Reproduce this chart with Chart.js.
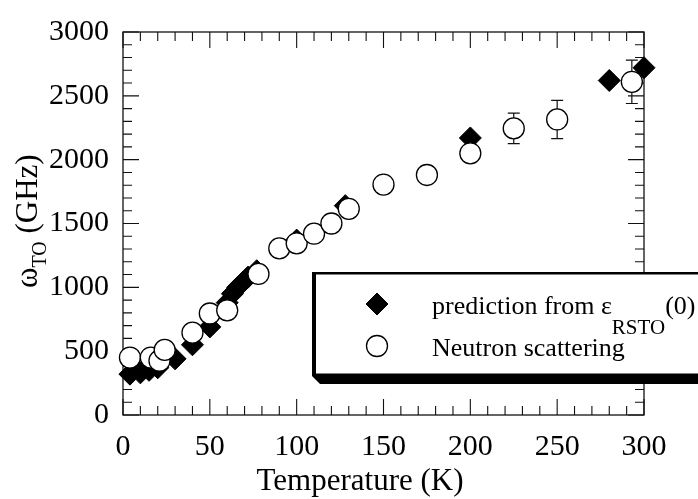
<!DOCTYPE html>
<html>
<head>
<meta charset="utf-8">
<script src="https://cdn.jsdelivr.net/npm/chart.js@4/dist/chart.umd.min.js"></script>
<style>
  html, body { margin: 0; padding: 0; background: #fff; }
  #wrap { width: 698px; height: 499px; position: relative; }
</style>
</head>
<body>
<div id="wrap"><canvas id="chart"></canvas></div>
<script>
// prediction from eps_RSTO(0)
const predT = [4, 10, 15, 20, 30, 40, 50, 60, 63, 66, 69, 72, 77, 100, 128, 200, 280, 300];
const predW = [320, 330, 350, 370, 440, 550, 690, 880, 950, 1000, 1040, 1080, 1130, 1370, 1640, 2170, 2620, 2720];

// neutron scattering (error = 0 -> no bar)
const neutT = [4, 16, 21, 24, 40, 50, 60, 78, 90, 100, 110, 120, 130, 150, 175, 200, 225, 250, 293];
const neutW = [450, 450, 425, 510, 645, 795, 820, 1105, 1305, 1345, 1420, 1500, 1615, 1805, 1880, 2050, 2245, 2315, 2610];
const neutErr = [0, 0, 0, 0, 0, 0, 0, 0, 0, 0, 0, 0, 0, 0, 0, 0, 120, 150, 170];

const seriesNames = ['prediction from ε_{RSTO}(0)', 'Neutron scattering'];
const xTitle = 'Temperature (K)';
const yTitle = 'ω_{TO} (GHz)';

const FONT = "'Liberation Serif', 'Times New Roman', serif";

function toPoints(xs, ys) {
    return xs.map((x, i) => ({ x: x, y: ys[i] }));
}

// split "a_{b}c" into [[a,false],[b,true],[c,false]]
function parseRich(str) {
    const parts = [];
    const re = /_\{([^}]*)\}/g;
    let last = 0, m;
    while ((m = re.exec(str)) !== null) {
        if (m.index > last) parts.push([str.slice(last, m.index), false]);
        parts.push([m[1], true]);
        last = re.lastIndex;
    }
    if (last < str.length) parts.push([str.slice(last), false]);
    return parts;
}

function drawRich(ctx, str, x, y, size, subSize, shift) {
    let cx = x;
    for (const [txt, sub] of parseRich(str)) {
        ctx.font = (sub ? subSize : size) + 'px ' + FONT;
        ctx.fillText(txt, cx, sub ? y + shift : y);
        cx += ctx.measureText(txt).width;
    }
    return cx;
}

// frame + inward ticks on all four sides
const framePlugin = {
    id: 'frame',
    beforeDatasetsDraw(chart) {
        const ctx = chart.ctx;
        const a = chart.chartArea;
        const xs = chart.scales.x, ys = chart.scales.y;
        ctx.save();
        ctx.strokeStyle = '#111';
        ctx.lineWidth = 1.3;
        ctx.strokeRect(a.left, a.top, a.right - a.left, a.bottom - a.top);
        ctx.lineWidth = 1.1;
        ctx.beginPath();
        for (let v = xs.min; v <= xs.max; v += 10) {
            const p = xs.getPixelForValue(v);
            const len = (v % 50 === 0) ? 16 : 9;
            ctx.moveTo(p, a.bottom); ctx.lineTo(p, a.bottom - len);
            ctx.moveTo(p, a.top); ctx.lineTo(p, a.top + len);
        }
        for (let v = ys.min; v <= ys.max; v += 100) {
            const p = ys.getPixelForValue(v);
            const len = (v % 500 === 0) ? 16 : 9;
            ctx.moveTo(a.left, p); ctx.lineTo(a.left + len, p);
            ctx.moveTo(a.right, p); ctx.lineTo(a.right - len, p);
        }
        ctx.stroke();

        // error bars under the neutron circles
        ctx.lineWidth = 1.2;
        ctx.beginPath();
        neutT.forEach((t, i) => {
            const e = neutErr[i];
            if (!e) return;
            const px = xs.getPixelForValue(t);
            const p1 = ys.getPixelForValue(neutW[i] + e);
            const p2 = ys.getPixelForValue(neutW[i] - e);
            ctx.moveTo(px, p1); ctx.lineTo(px, p2);
            ctx.moveTo(px - 6, p1); ctx.lineTo(px + 6, p1);
            ctx.moveTo(px - 6, p2); ctx.lineTo(px + 6, p2);
        });
        ctx.stroke();
        ctx.restore();
    },
    afterDraw(chart) {
        const ctx = chart.ctx;
        const a = chart.chartArea;
        ctx.save();
        ctx.fillStyle = '#000';
        ctx.textBaseline = 'alphabetic';

        // x title
        ctx.font = '31px ' + FONT;
        ctx.textAlign = 'center';
        ctx.fillText(xTitle, a.left + (a.right - a.left) * 0.455, 490);

        // y title, rotated
        ctx.textAlign = 'left';
        ctx.save();
        ctx.translate(37, 288);
        ctx.rotate(-Math.PI / 2);
        drawRich(ctx, yTitle, 0, 0, 31, 20, 9);
        ctx.restore();

        // legend box with drop shadow
        const bx = 314, by = 273, bh = 101, W = chart.width;
        ctx.fillStyle = '#000';
        ctx.beginPath();
        ctx.moveTo(bx - 2, by - 1);
        ctx.lineTo(W, by - 1);
        ctx.lineTo(W, by + bh + 10);
        ctx.lineTo(bx + 6, by + bh + 10);
        ctx.lineTo(bx - 2, by + bh + 2);
        ctx.closePath();
        ctx.fill();
        ctx.fillStyle = '#fff';
        ctx.fillRect(bx + 2, by + 1.5, W - bx, bh - 2);

        const ds = chart.data.datasets;
        const rows = [304, 346];
        ds.forEach((d, i) => {
            ctx.fillStyle = d.pointBackgroundColor;
            ctx.strokeStyle = d.pointBorderColor;
            ctx.lineWidth = d.pointBorderWidth;
            Chart.helpers.drawPoint(ctx, {
                pointStyle: d.pointStyle, rotation: 0,
                radius: d.pointRadius, borderWidth: d.pointBorderWidth
            }, 377, rows[i]);
            ctx.fillStyle = '#000';
            drawRich(ctx, seriesNames[i], 432, rows[i] + 10, 26, 21, 20);
        });
        ctx.restore();
    }
};

const data = {
    datasets: [
        {
            label: seriesNames[0],
            data: toPoints(predT, predW),
            pointStyle: 'rectRot',
            pointRadius: 11,
            pointBackgroundColor: '#000',
            pointBorderColor: '#000',
            pointBorderWidth: 1,
            showLine: false,
            order: 1,
            clip: false
        },
        {
            label: seriesNames[1],
            data: toPoints(neutT, neutW),
            pointStyle: 'circle',
            pointRadius: 10.5,
            pointBackgroundColor: '#fff',
            pointBorderColor: '#000',
            pointBorderWidth: 1.3,
            showLine: false,
            order: 0,
            clip: false
        }
    ]
};

const tickFont = { family: FONT, size: 30 };
const plainNum = (v) => String(v);

new Chart(document.getElementById('chart'), {
    type: 'scatter',
    data: data,
    options: {
        responsive: true,
        maintainAspectRatio: false,
        animation: false,
        layout: { padding: { left: 0, right: 54, top: 28, bottom: 0 } },
        plugins: {
            legend: { display: false },
            tooltip: { enabled: false }
        },
        scales: {
            x: {
                type: 'linear',
                min: 0, max: 300,
                ticks: { stepSize: 50, color: '#000', font: tickFont, padding: 14, maxRotation: 0, callback: plainNum },
                grid: { display: false, drawTicks: false },
                border: { display: false },
                afterFit(scale) { scale.height = 84; }
            },
            y: {
                type: 'linear',
                min: 0, max: 3000,
                ticks: { stepSize: 500, color: '#000', font: tickFont, padding: 14, callback: plainNum },
                grid: { display: false, drawTicks: false },
                border: { display: false },
                afterFit(scale) { scale.width = 123; }
            }
        }
    },
    plugins: [framePlugin]
});
</script>
</body>
</html>
